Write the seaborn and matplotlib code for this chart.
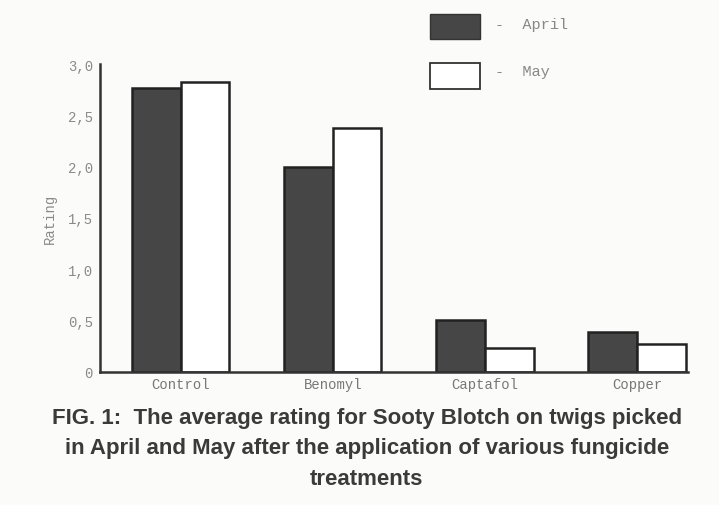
import pandas as pd
import matplotlib
matplotlib.use("Agg")
import matplotlib.pyplot as plt
import seaborn as sns
from matplotlib.patches import Rectangle

# data
treatments = ["Control", "Benomyl", "Captafol", "Copper"]
april = [2.77, 2.00, 0.51, 0.39]
may = [2.82, 2.38, 0.23, 0.27]
months = ["April", "May"]
yticks = [0, 0.5, 1.0, 1.5, 2.0, 2.5, 3.0]
ytick_labels = ["0", "0,5", "1,0", "1,5", "2,0", "2,5", "3,0"]

df = pd.DataFrame({
    "treatment": treatments * 2,
    "month": ["April"] * 4 + ["May"] * 4,
    "rating": april + may,
})

sns.set_style("white")
bg = "#fbfbf9"
dark = "#464646"
mono = ["Liberation Mono", "DejaVu Sans Mono"]

fig = plt.figure(figsize=(7.19, 5.06), dpi=100, facecolor=bg)
ax = fig.add_axes([0.139, 0.263, 0.818, 0.6085], facecolor=bg)

sns.barplot(data=df, x="treatment", y="rating", hue="month", order=treatments,
            hue_order=months, palette={"April": dark, "May": "white"},
            width=0.64, edgecolor="#222222", linewidth=1.8, ax=ax, legend=False)

ax.set_xlim(-0.53, 3.335)
ax.set_ylim(0, 3.0)
ax.set_yticks(yticks)
ax.set_yticklabels(ytick_labels, family=mono, fontsize=10, color="#8a8a8a")
ax.set_xticks(range(len(treatments)))
ax.set_xticklabels(treatments, family=mono, fontsize=10, color="#777777")
ax.tick_params(axis="y", length=0, pad=5)
ax.tick_params(axis="x", length=0, pad=4)
ax.set_xlabel("")
ax.set_ylabel("Rating", family=mono, fontsize=10, color="#8a8a8a", labelpad=8)
for s in ["top", "right"]:
    ax.spines[s].set_visible(False)
for s in ["left", "bottom"]:
    ax.spines[s].set_color("#333333")
    ax.spines[s].set_linewidth(1.8)

# legend drawn as boxes at the top
fig.add_artist(Rectangle((430 / 719, 1 - 40 / 506), 50 / 719, 25 / 506,
                         transform=fig.transFigure, facecolor=dark,
                         edgecolor="#333333", linewidth=1))
fig.add_artist(Rectangle((430 / 719, 1 - 90 / 506), 50 / 719, 26 / 506,
                         transform=fig.transFigure, facecolor="white",
                         edgecolor="#333333", linewidth=1.3))
fig.text(495 / 719, 1 - 25 / 506, "-  April", family=mono, fontsize=11,
         color="#888888", va="center")
fig.text(495 / 719, 1 - 72 / 506, "-  May", family=mono, fontsize=11,
         color="#888888", va="center")

caption = ("FIG. 1:  The average rating for Sooty Blotch on twigs picked\n"
           "in April and May after the application of various fungicide\n"
           "treatments")
fig.text(0.51, 1 - 449 / 506, caption, ha="center", va="center",
         family=["Liberation Sans", "DejaVu Sans"], fontweight="bold",
         fontsize=16, color="#3a3a3a", linespacing=1.6)

fig.savefig("out.png", dpi=100, facecolor=bg)
